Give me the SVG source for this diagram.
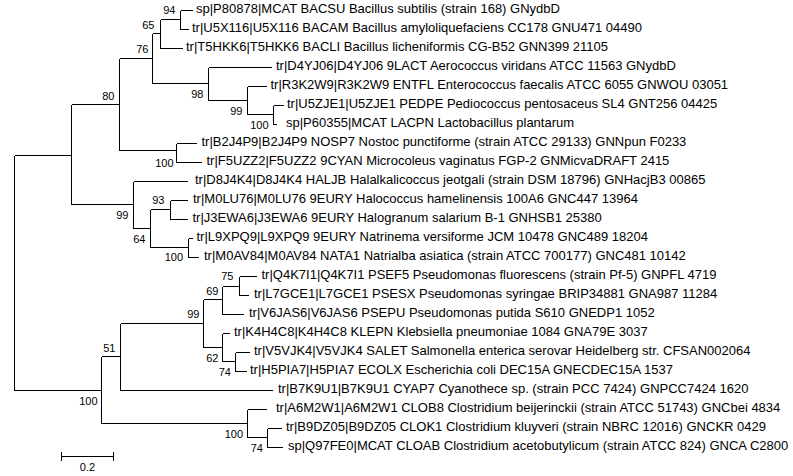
<svg xmlns="http://www.w3.org/2000/svg" width="793" height="476" viewBox="0 0 793 476">
<style>
.bg{fill:#fff}
.e{fill:none;stroke:#000;stroke-width:1;shape-rendering:crispEdges}
.lf{font-family:"Liberation Sans",Arial,sans-serif;font-size:13px;fill:#000}
.bs{font-family:"Liberation Sans",Arial,sans-serif;font-size:11px;fill:#000;text-anchor:end}
.sc{font-family:"Liberation Sans",Arial,sans-serif;font-size:11px;fill:#000;text-anchor:middle}
</style>
<rect class="bg" x="0" y="0" width="793" height="476"/>
<g id="connectors">
<path class="e" d="M14.5 155.5V390.5M14.5 155.5H71.5M14.5 390.5H101.5"/>
<path class="e" d="M71.5 104.5V204.5M71.5 104.5H119.5M71.5 204.5H133.5"/>
<path class="e" d="M119.5 58.5V150.5M119.5 58.5H152.5M119.5 150.5H176.5"/>
<path class="e" d="M152.5 33.5V83.5M152.5 33.5H160.5M152.5 83.5H208.5"/>
<path class="e" d="M160.5 19.5V48.5M160.5 19.5H180.5M160.5 48.5H183"/>
<path class="e" d="M180.5 10.5V29.5M180.5 10.5H193M180.5 29.5H189"/>
<path class="e" d="M208.5 67.5V100.5M208.5 67.5H272M208.5 100.5H247.5"/>
<path class="e" d="M247.5 86.5V114.5M247.5 86.5H267M247.5 114.5H273.5"/>
<path class="e" d="M273.5 105.5V124.5M273.5 105.5H284M273.5 124.5H277"/>
<path class="e" d="M176.5 143.5V162.5M176.5 143.5H197M176.5 162.5H202"/>
<path class="e" d="M133.5 181.5V228.5M133.5 181.5H188M133.5 228.5H150.5"/>
<path class="e" d="M150.5 209.5V247.5M150.5 209.5H170.5M150.5 247.5H188.5"/>
<path class="e" d="M170.5 200.5V219.5M170.5 200.5H188M170.5 219.5H188"/>
<path class="e" d="M188.5 238.5V257.5M188.5 238.5H193M188.5 257.5H199"/>
<path class="e" d="M101.5 356.5V423.5M101.5 356.5H120.5M101.5 423.5H247.5"/>
<path class="e" d="M120.5 323.5V390.5M120.5 323.5H203.5M120.5 390.5H273"/>
<path class="e" d="M203.5 299.5V347.5M203.5 299.5H222.5M203.5 347.5H222.5"/>
<path class="e" d="M222.5 286.5V314.5M222.5 286.5H239.5M222.5 314.5H244"/>
<path class="e" d="M239.5 276.5V295.5M239.5 276.5H257M239.5 295.5H249"/>
<path class="e" d="M222.5 333.5V361.5M222.5 333.5H230M222.5 361.5H235.5"/>
<path class="e" d="M235.5 352.5V371.5M235.5 352.5H250M235.5 371.5H247"/>
<path class="e" d="M247.5 409.5V437.5M247.5 409.5H267M247.5 437.5H267.5"/>
<path class="e" d="M267.5 428.5V447.5M267.5 428.5H282M267.5 447.5H283"/>
</g>
<g id="leaf-P80878"><text class="lf" x="196" y="12.5">sp|P80878|MCAT BACSU Bacillus subtilis (strain 168) GNydbD</text></g>
<g id="leaf-U5X116"><text class="lf" x="192" y="31.5">tr|U5X116|U5X116 BACAM Bacillus amyloliquefaciens CC178 GNU471 04490</text></g>
<g id="leaf-T5HKK6"><text class="lf" x="186" y="50.5">tr|T5HKK6|T5HKK6 BACLI Bacillus licheniformis CG-B52 GNN399 21105</text></g>
<g id="leaf-D4YJ06"><text class="lf" x="276" y="69.5">tr|D4YJ06|D4YJ06 9LACT Aerococcus viridans ATCC 11563 GNydbD</text></g>
<g id="leaf-R3K2W9"><text class="lf" x="270.5" y="88.5">tr|R3K2W9|R3K2W9 ENTFL Enterococcus faecalis ATCC 6055 GNWOU 03051</text></g>
<g id="leaf-U5ZJE1"><text class="lf" x="287" y="107.5">tr|U5ZJE1|U5ZJE1 PEDPE Pediococcus pentosaceus SL4 GNT256 04425</text></g>
<g id="leaf-P60355"><text class="lf" x="286" y="126.5">sp|P60355|MCAT LACPN Lactobacillus plantarum</text></g>
<g id="leaf-B2J4P9"><text class="lf" x="201.5" y="145.5">tr|B2J4P9|B2J4P9 NOSP7 Nostoc punctiforme (strain ATCC 29133) GNNpun F0233</text></g>
<g id="leaf-F5UZZ2"><text class="lf" x="206.5" y="164.5">tr|F5UZZ2|F5UZZ2 9CYAN Microcoleus vaginatus FGP-2 GNMicvaDRAFT 2415</text></g>
<g id="leaf-D8J4K4"><text class="lf" x="195" y="183.5">tr|D8J4K4|D8J4K4 HALJB Halalkalicoccus jeotgali (strain DSM 18796) GNHacjB3 00865</text></g>
<g id="leaf-M0LU76"><text class="lf" x="193" y="202.5">tr|M0LU76|M0LU76 9EURY Halococcus hamelinensis 100A6 GNC447 13964</text></g>
<g id="leaf-J3EWA6"><text class="lf" x="192.5" y="221.5">tr|J3EWA6|J3EWA6 9EURY Halogranum salarium B-1 GNHSB1 25380</text></g>
<g id="leaf-L9XPQ9"><text class="lf" x="196.5" y="240.5">tr|L9XPQ9|L9XPQ9 9EURY Natrinema versiforme JCM 10478 GNC489 18204</text></g>
<g id="leaf-M0AV84"><text class="lf" x="204" y="259.5">tr|M0AV84|M0AV84 NATA1 Natrialba asiatica (strain ATCC 700177) GNC481 10142</text></g>
<g id="leaf-Q4K7I1"><text class="lf" x="261.5" y="278.5">tr|Q4K7I1|Q4K7I1 PSEF5 Pseudomonas fluorescens (strain Pf-5) GNPFL 4719</text></g>
<g id="leaf-L7GCE1"><text class="lf" x="254" y="297.5">tr|L7GCE1|L7GCE1 PSESX Pseudomonas syringae BRIP34881 GNA987 11284</text></g>
<g id="leaf-V6JAS6"><text class="lf" x="249" y="316.5">tr|V6JAS6|V6JAS6 PSEPU Pseudomonas putida S610 GNEDP1 1052</text></g>
<g id="leaf-K4H4C8"><text class="lf" x="234" y="335.5">tr|K4H4C8|K4H4C8 KLEPN Klebsiella pneumoniae 1084 GNA79E 3037</text></g>
<g id="leaf-V5VJK4"><text class="lf" x="254" y="354.5">tr|V5VJK4|V5VJK4 SALET Salmonella enterica serovar Heidelberg str. CFSAN002064</text></g>
<g id="leaf-H5PIA7"><text class="lf" x="250" y="373.5">tr|H5PIA7|H5PIA7 ECOLX Escherichia coli DEC15A GNECDEC15A 1537</text></g>
<g id="leaf-B7K9U1"><text class="lf" x="278" y="392.5">tr|B7K9U1|B7K9U1 CYAP7 Cyanothece sp. (strain PCC 7424) GNPCC7424 1620</text></g>
<g id="leaf-A6M2W1"><text class="lf" x="276" y="411.5">tr|A6M2W1|A6M2W1 CLOB8 Clostridium beijerinckii (strain ATCC 51743) GNCbei 4834</text></g>
<g id="leaf-B9DZ05"><text class="lf" x="286" y="430.5">tr|B9DZ05|B9DZ05 CLOK1 Clostridium kluyveri (strain NBRC 12016) GNCKR 0429</text></g>
<g id="leaf-Q97FE0"><text class="lf" x="288" y="449.5">sp|Q97FE0|MCAT CLOAB Clostridium acetobutylicum (strain ATCC 824) GNCA C2800</text></g>
<g id="node-94"><text class="bs" x="175.5" y="13.5">94</text></g>
<g id="node-65"><text class="bs" x="154.5" y="28.5">65</text></g>
<g id="node-76"><text class="bs" x="148.5" y="52.5">76</text></g>
<g id="node-80"><text class="bs" x="114.5" y="100">80</text></g>
<g id="node-98"><text class="bs" x="203.5" y="97.5">98</text></g>
<g id="node-99a"><text class="bs" x="242.5" y="114.5">99</text></g>
<g id="node-100a"><text class="bs" x="268.5" y="128.5">100</text></g>
<g id="node-100b"><text class="bs" x="173.5" y="166.5">100</text></g>
<g id="node-99b"><text class="bs" x="128.5" y="219">99</text></g>
<g id="node-93"><text class="bs" x="164.5" y="203.5">93</text></g>
<g id="node-64"><text class="bs" x="145.5" y="242.5">64</text></g>
<g id="node-100c"><text class="bs" x="183" y="261">100</text></g>
<g id="node-75"><text class="bs" x="233.5" y="280">75</text></g>
<g id="node-69"><text class="bs" x="218.5" y="295">69</text></g>
<g id="node-99c"><text class="bs" x="199.5" y="318">99</text></g>
<g id="node-62"><text class="bs" x="218.5" y="362">62</text></g>
<g id="node-74a"><text class="bs" x="231" y="375.5">74</text></g>
<g id="node-51"><text class="bs" x="115.5" y="351.5">51</text></g>
<g id="node-100d"><text class="bs" x="97.5" y="405">100</text></g>
<g id="node-100e"><text class="bs" x="243" y="437.5">100</text></g>
<g id="node-74b"><text class="bs" x="263" y="451.5">74</text></g>
<g id="scale-bar">
<path class="e" d="M61.5 456.5H113.5M61.5 452V461M113.5 452V461"/>
<text class="sc" x="87.5" y="470.5">0.2</text>
</g>
</svg>
